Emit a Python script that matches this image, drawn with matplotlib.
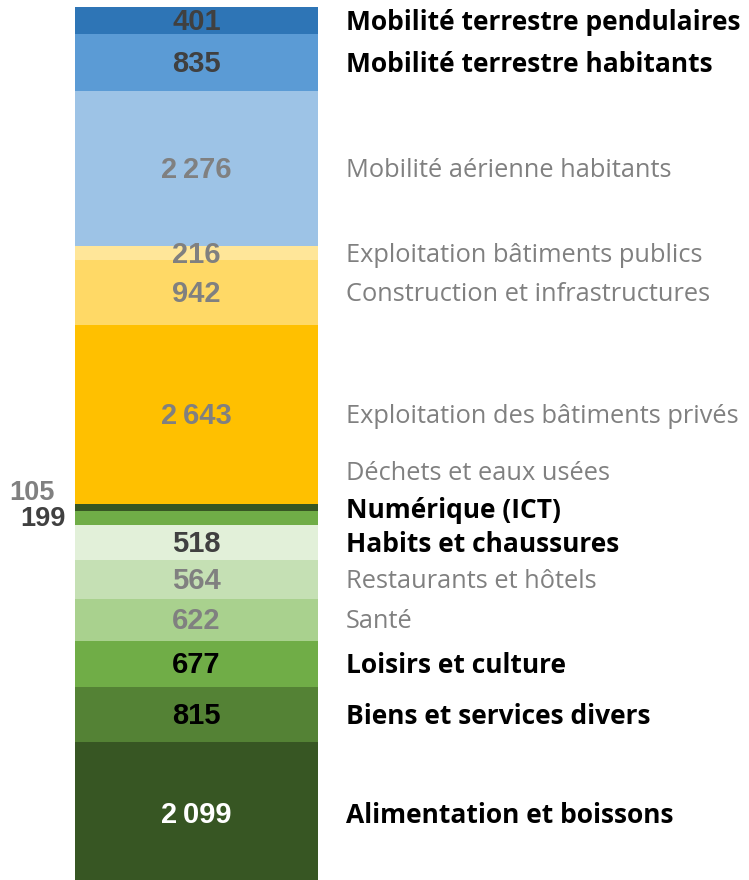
import matplotlib
matplotlib.use("Agg")
import matplotlib.pyplot as plt

# bottom to top
categories = ["Alimentation et boissons", "Biens et services divers", "Loisirs et culture",
              "Santé", "Restaurants et hôtels", "Habits et chaussures", "Numérique (ICT)",
              "Déchets et eaux usées", "Exploitation des bâtiments privés",
              "Construction et infrastructures", "Exploitation bâtiments publics",
              "Mobilité aérienne habitants", "Mobilité terrestre habitants",
              "Mobilité terrestre pendulaires"]
values = [2099, 815, 677, 622, 564, 518, 199, 105, 2643, 942, 216, 2276, 835, 401]
value_labels = ["2\u2009099", "815", "677", "622", "564", "518", "199", "105", "2\u2009643",
                "942", "216", "2\u2009276", "835", "401"]

colors = ["#375623", "#548235", "#70AD47", "#A9D18E", "#C5E0B4", "#E2F0D9", "#70AD47",
          "#375623", "#FFC000", "#FFD966", "#FFE699", "#9DC3E6", "#5B9BD5", "#2E75B6"]
value_colors = ["white", "black", "black", "#808080", "#808080", "#404040", "#404040",
                "#808080", "#808080", "#808080", "#808080", "#808080", "#404040", "#404040"]
bold_names = {"Mobilité terrestre pendulaires", "Mobilité terrestre habitants",
              "Numérique (ICT)", "Habits et chaussures", "Loisirs et culture",
              "Biens et services divers", "Alimentation et boissons"}
# small segments: value shown left of bar (right edge px, shift up px), names nudged up (px)
left_values = {"Déchets et eaux usées": (55, 15), "Numérique (ICT)": (66, -1)}
name_shift = {"Déchets et eaux usées": 36, "Numérique (ICT)": 10}

W, H = 749, 880
px = 0.72  # points per pixel at dpi 100
num_font = ["Liberation Sans", "DejaVu Sans"]
fig = plt.figure(figsize=(W / 100, H / 100), dpi=100)
ax = fig.add_axes([75 / W, -5 / H, 243 / W, 878 / H])
total = sum(values)
ax.set_xlim(0, 1)
ax.set_ylim(0, total)
ax.axis("off")

bottom = 0
for name, v, lab, c, vc in zip(categories, values, value_labels, colors, value_colors):
    ax.bar(0.5, v, width=1, bottom=bottom, color=c, edgecolor="none")
    mid = bottom + v / 2
    if name in left_values:
        xr, dy = left_values[name]
        ax.annotate(lab, xy=(0, mid), xytext=((xr - 75) * px, dy * px),
                    textcoords="offset points", ha="right", va="center", fontsize=19.5,
                    fontweight="bold", color=vc, family=num_font,
                    annotation_clip=False)
    else:
        ax.annotate(lab, xy=(0.5, mid), xytext=(0, -1.5 * px), textcoords="offset points",
                    ha="center", va="center", fontsize=21, fontweight="bold",
                    color=vc, family=num_font)
    bold = name in bold_names
    ax.annotate(name, xy=(1, mid), xytext=(28 * px, (name_shift.get(name, 0) - 2) * px),
                textcoords="offset points", ha="left", va="center",
                fontsize=19 if bold else 18.3,
                fontweight="bold" if bold else "normal",
                color="black" if bold else "#808080", family="Open Sans",
                annotation_clip=False)
    bottom += v

fig.savefig("out.png", dpi=100)
